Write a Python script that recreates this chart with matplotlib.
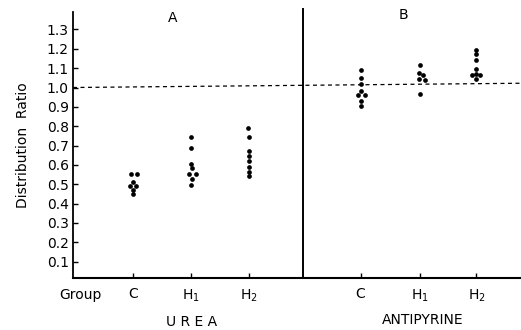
import numpy as np
import matplotlib
matplotlib.use("Agg")
import matplotlib.pyplot as plt

# distribution ratio, one list per group
urea_c = [0.555, 0.555, 0.51, 0.49, 0.49, 0.47, 0.45]
urea_h1 = [0.745, 0.685, 0.607, 0.582, 0.551, 0.551, 0.525, 0.495]
urea_h2 = [0.793, 0.745, 0.672, 0.647, 0.621, 0.587, 0.564, 0.542]
anti_c = [1.089, 1.051, 1.016, 0.982, 0.963, 0.963, 0.930, 0.905]
anti_h1 = [1.115, 1.077, 1.067, 1.046, 1.037, 0.969]
anti_h2 = [1.196, 1.175, 1.144, 1.098, 1.072, 1.063, 1.063, 1.046]

# sideways nudge of overlapping dots (fraction of group spacing)
urea_c_dx = [-0.04, 0.075, 0, -0.057, 0.057, 0, 0]
urea_h1_dx = [0, 0, 0, 0.017, -0.04, 0.086, 0.017, 0]
urea_h2_dx = [-0.017, 0, 0, 0, 0.01, 0, 0.01, 0.01]
anti_c_dx = [0, 0, 0, 0, -0.04, 0.075, 0, 0]
anti_h1_dx = [0, -0.023, 0.046, -0.023, 0.086, 0]
anti_h2_dx = [0, 0, 0, 0, 0, -0.07, 0.057, 0]

groups = [urea_c, urea_h1, urea_h2, anti_c, anti_h1, anti_h2]
offsets = [urea_c_dx, urea_h1_dx, urea_h2_dx, anti_c_dx, anti_h1_dx, anti_h2_dx]
group_labels = ["C", r"H$_\mathregular{1}$", r"H$_\mathregular{2}$"] * 2
y_ticks = [0.1, 0.2, 0.3, 0.4, 0.5, 0.6, 0.7, 0.8, 0.9, 1.0, 1.1, 1.2, 1.3]
reference_line = [1.0, 1.022]   # dashed unity line (scan is slightly tilted)

positions = [1, 2, 3, 4.93, 5.96, 6.93]
divider = 3.93

fig = plt.figure(figsize=(5.21, 3.30), dpi=100)
ax = fig.add_axes([0.1401, 0.1585, 0.860, 0.805])

for pos, vals, dx in zip(positions, groups, offsets):
    xs = pos + np.array(dx)
    ax.plot(xs, vals, "o", color="black", ms=3.4, mec="none")

xmin, xmax = -0.034, 7.7
ax.plot([xmin, xmax], reference_line, color="black", lw=0.9,
        dashes=(3.2, 2.8))
ax.axvline(divider, color="black", lw=1.4, ymax=1.01, clip_on=False)

ax.set_xlim(xmin, xmax)
ax.set_ylim(0.017, 1.39)
ax.spines["top"].set_visible(False)
ax.spines["right"].set_visible(False)
ax.spines["left"].set_linewidth(1.3)
ax.spines["bottom"].set_linewidth(1.5)

ax.set_yticks(y_ticks)
ax.set_yticklabels(["%.1f" % v for v in y_ticks], fontsize=10)
ax.set_xticks(positions)
ax.set_xticklabels(group_labels, fontsize=10)
ax.tick_params(direction="in", length=3.5, width=1.0, pad=3)
ax.tick_params(axis="y", pad=3)
ax.tick_params(axis="x", pad=7)

ax.set_ylabel("Distribution  Ratio", fontsize=10, labelpad=12)

fig.text(80 / 521, 1 - 295 / 330, "Group", fontsize=10, ha="center", va="center")
fig.text(192 / 521, 1 - 322 / 330, "U R E A", fontsize=10, ha="center", va="center")
fig.text(423 / 521, 1 - 320 / 330, "ANTIPYRINE", fontsize=10, ha="center", va="center")
fig.text(173 / 521, 1 - 18 / 330, "A", fontsize=10, ha="center", va="center")
fig.text(403 / 521, 1 - 15 / 330, "B", fontsize=10, ha="center", va="center")

fig.savefig("out.png", dpi=100)
